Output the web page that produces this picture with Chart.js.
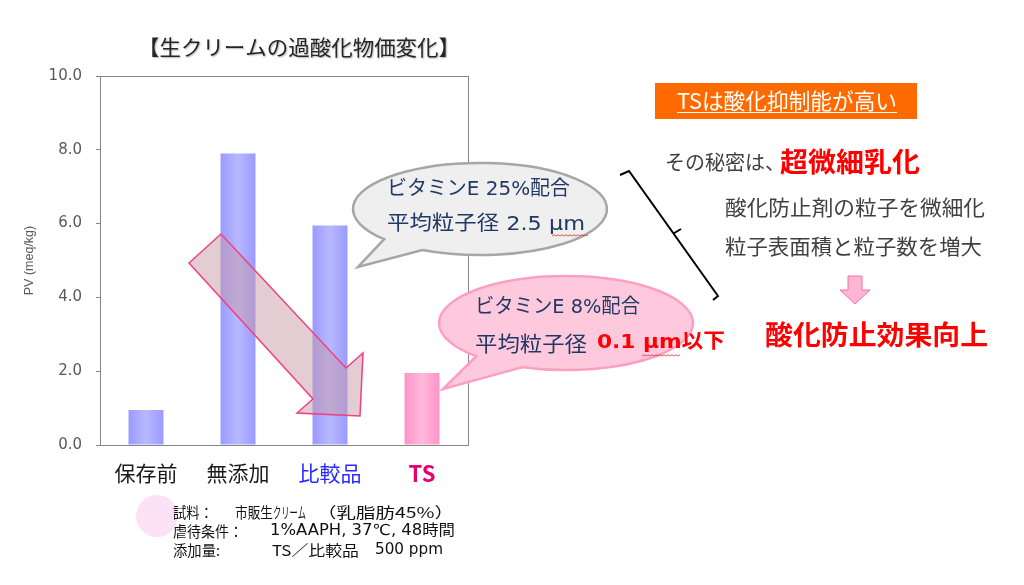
<!DOCTYPE html>
<html><head><meta charset="utf-8">
<script src="https://cdn.jsdelivr.net/npm/chart.js@4.4.1/dist/chart.umd.min.js"></script>
<style>html,body{margin:0;padding:0;background:#fff;overflow:hidden}canvas{display:block}</style>
</head><body>
<canvas id="c" width="1024" height="585"></canvas>
<script>
// ---- data ----
const categories = ['保存前', '無添加', '比較品', 'TS'];
const pvValues = [0.95, 7.9, 5.95, 1.95];
const yTickLabels = ['0.0', '2.0', '4.0', '6.0', '8.0', '10.0'];
const yAxisTitle = 'PV (meq/kg)';
const chartTitle = '【生クリームの過酸化物価変化】';
const categoryColors = ['#1a1a1a', '#1a1a1a', '#2a2aff', '#e8006e'];
const barEdgeColors = ['#9a9aff', '#9a9aff', '#9a9aff', '#ff94c8'];
const barMidColors = ['#b8b8ff', '#b8b8ff', '#b8b8ff', '#ffb9dc'];

const JP = '"Noto Sans CJK JP", "Noto Sans", sans-serif';
const MIX = '"DejaVu Sans", "Noto Sans CJK JP", sans-serif';
const BAR_PCT = 0.38;

function barFill(c) {
  const chart = c.chart, area = chart.chartArea, i = c.dataIndex;
  if (!area || c.type !== 'data' || !chart.scales.x) return barEdgeColors[i] || '#9a9aff';
  const x = chart.scales.x.getPixelForValue(i);
  const w = area.width / categories.length * BAR_PCT;
  const g = chart.ctx.createLinearGradient(x - w / 2, 0, x + w / 2, 0);
  g.addColorStop(0, barEdgeColors[i]);
  g.addColorStop(0.5, barMidColors[i]);
  g.addColorStop(1, barEdgeColors[i]);
  return g;
}

function txt(ctx, str, x, y, size, color, opts = {}) {
  const weight = opts.weight || 'normal';
  const fam = opts.family || JP;
  ctx.save();
  ctx.font = `${weight} ${size}px ${fam}`;
  ctx.fillStyle = color;
  ctx.textAlign = 'left';
  ctx.textBaseline = 'middle';
  const w = ctx.measureText(str).width;
  ctx.translate(x, y);
  if (opts.width) ctx.scale(opts.width / w, 1);
  if (opts.align === 'center') ctx.translate(-w / 2, 0);
  ctx.fillText(str, 0, 0);
  ctx.restore();
}

function balloon(ctx, cx, cy, rx, ry, a1, a2, tip, fill, stroke) {
  ctx.save();
  ctx.beginPath();
  ctx.ellipse(cx, cy, rx, ry, 0, a1 * Math.PI / 180, (a2 + 360) * Math.PI / 180, false);
  ctx.lineTo(tip[0], tip[1]);
  ctx.closePath();
  ctx.fillStyle = fill; ctx.fill();
  ctx.lineWidth = 2.5; ctx.strokeStyle = stroke; ctx.lineJoin = 'miter'; ctx.stroke();
  ctx.restore();
}

function squiggle(ctx, x1, x2, y) {
  ctx.save();
  ctx.beginPath();
  ctx.strokeStyle = '#e03030'; ctx.lineWidth = 0.8;
  let up = true;
  ctx.moveTo(x1, y);
  for (let x = x1 + 2; x <= x2; x += 2) { ctx.lineTo(x, up ? y - 1.2 : y); up = !up; }
  ctx.stroke();
  ctx.restore();
}

const deco = {
  id: 'deco',
  beforeDatasetsDraw(chart) {
    const { ctx, chartArea: a } = chart;
    ctx.save();
    ctx.strokeStyle = '#868686'; ctx.lineWidth = 1;
    ctx.strokeRect(Math.round(a.left) + 0.5, Math.round(a.top) + 0.5, Math.round(a.width), Math.round(a.height));
    ctx.restore();
  },
  afterDraw(chart) {
    const ctx = chart.ctx;
    // title
    ctx.save();
    ctx.shadowColor = 'rgba(0,0,0,0.3)'; ctx.shadowOffsetX = 1; ctx.shadowOffsetY = 1; ctx.shadowBlur = 1.5;
    txt(ctx, chartTitle, 299, 47, 21, '#262626', { width: 322, align: 'center' });
    ctx.restore();

    // big diagonal arrow
    ctx.save();
    ctx.beginPath();
    const pts = [[189, 263], [221, 234], [346, 368], [363, 353], [360, 416], [297, 413], [313, 399]];
    ctx.moveTo(pts[0][0], pts[0][1]);
    for (let i = 1; i < pts.length; i++) ctx.lineTo(pts[i][0], pts[i][1]);
    ctx.closePath();
    ctx.fillStyle = 'rgba(199,155,167,0.5)'; ctx.fill();
    ctx.strokeStyle = '#f0407f'; ctx.lineWidth = 1.5; ctx.lineJoin = 'miter'; ctx.stroke();
    ctx.restore();

    // balloons
    balloon(ctx, 480, 209, 127, 46, 139, 117, [358, 267], '#efefef', '#a6a6a6');
    txt(ctx, 'ビタミンE 25%配合', 387, 190, 20, '#1f3864', { width: 183, family: MIX });
    txt(ctx, '平均粒子径 2.5 μm', 387, 225, 20, '#1f3864', { width: 198, family: MIX });
    squiggle(ctx, 552, 588, 236);

    balloon(ctx, 566, 323, 127, 47, 135, 110, [443, 389], '#ffc9dd', '#ff9ec4');
    txt(ctx, 'ビタミンE 8%配合', 475, 308, 20, '#1f3864', { width: 165, family: MIX });
    txt(ctx, '平均粒子径', 475, 343, 21, '#1f3864', { width: 112 });
    txt(ctx, '0.1 μm以下', 597, 343, 20, '#ff0000', { width: 128, weight: 'bold', family: MIX });
    squiggle(ctx, 642, 680, 356);

    // orange box
    ctx.save();
    ctx.fillStyle = '#ff6a00';
    ctx.fillRect(655, 83, 262, 36);
    ctx.restore();
    txt(ctx, 'TSは酸化抑制能が高い', 677, 101, 22, '#ffffff', { width: 220 });
    ctx.save();
    ctx.strokeStyle = '#ffffff'; ctx.lineWidth = 1.2;
    ctx.beginPath(); ctx.moveTo(677, 112.5); ctx.lineTo(897, 112.5); ctx.stroke();
    ctx.restore();

    // right texts
    txt(ctx, 'その秘密は、', 665, 162, 20, '#404040', { width: 120 });
    txt(ctx, '超微細乳化', 780, 162, 27, '#ff0000', { width: 140, weight: 'bold' });
    txt(ctx, '酸化防止剤の粒子を微細化', 725, 207, 21, '#404040', { width: 260 });
    txt(ctx, '粒子表面積と粒子数を増大', 725, 246, 21, '#404040', { width: 257 });
    txt(ctx, '酸化防止効果向上', 765, 335, 27, '#ff0000', { width: 223, weight: 'bold' });

    // bracket
    ctx.save();
    ctx.strokeStyle = '#000000'; ctx.lineWidth = 2; ctx.lineJoin = 'miter';
    ctx.beginPath();
    ctx.moveTo(620, 175); ctx.lineTo(629, 171); ctx.lineTo(718, 296); ctx.lineTo(713, 300);
    ctx.moveTo(673.5, 233.5); ctx.lineTo(681, 229);
    ctx.stroke();
    ctx.restore();

    // small pink down arrow
    ctx.save();
    ctx.beginPath();
    ctx.moveTo(848, 276); ctx.lineTo(862, 276); ctx.lineTo(862, 290); ctx.lineTo(870, 290);
    ctx.lineTo(855, 304); ctx.lineTo(840, 290); ctx.lineTo(848, 290); ctx.closePath();
    ctx.fillStyle = '#ffb6d3'; ctx.fill();
    ctx.strokeStyle = '#ff6aa6'; ctx.lineWidth = 1; ctx.stroke();
    ctx.restore();

    // pink circle
    ctx.save();
    ctx.beginPath(); ctx.arc(157, 516, 21, 0, Math.PI * 2);
    ctx.fillStyle = '#fde2f7'; ctx.fill();
    ctx.restore();

    // notes
    const nc = '#111111';
    txt(ctx, '試料：', 173, 512, 15, nc, { width: 40 });
    txt(ctx, '市販生', 235, 512, 15, nc, { width: 38 });
    txt(ctx, 'クリーム', 273, 512, 15, nc, { width: 33 });
    txt(ctx, '（乳脂肪45%）', 317, 512, 15, nc, { width: 137 });
    txt(ctx, '虐待条件：', 173, 531, 15, nc, { width: 70 });
    txt(ctx, '1%AAPH, 37℃, 48時間', 270, 531, 15, nc, { width: 185, family: MIX });
    txt(ctx, '添加量:', 173, 550, 15, nc, { width: 47 });
    txt(ctx, 'TS／比較品', 272, 550, 15, nc, { width: 87 });
    txt(ctx, '500 ppm', 375, 550, 15, nc, { width: 68, family: MIX });
  }
};

new Chart(document.getElementById('c'), {
  type: 'bar',
  data: {
    labels: categories,
    datasets: [{
      data: pvValues,
      backgroundColor: barFill,
      borderWidth: 0,
      barPercentage: BAR_PCT,
      categoryPercentage: 1.0
    }]
  },
  options: {
    responsive: false,
    animation: false,
    devicePixelRatio: 1,
    layout: { padding: { left: 0, right: 556, top: 76, bottom: 100 } },
    plugins: { legend: { display: false }, tooltip: { enabled: false }, title: { display: false } },
    scales: {
      x: {
        grid: { display: false },
        border: { display: true, color: '#868686', width: 1 },
        ticks: {
          padding: 7,
          color: (c) => categoryColors[c.index],
          font: (c) => ({ family: JP, size: c.index === 3 ? 22 : 21, weight: c.index === 3 ? 'bold' : 'normal' })
        },
        afterFit: (s) => { s.height = 40; }
      },
      y: {
        min: 0, max: 10,
        grid: { display: true, drawOnChartArea: false, drawTicks: true, tickLength: 4, color: '#868686' },
        border: { display: true, color: '#868686', width: 1 },
        ticks: {
          stepSize: 2,
          padding: 14,
          color: '#595959',
          font: { family: '"DejaVu Sans", sans-serif', size: 15 },
          callback: (v) => yTickLabels[Math.round(v / 2)]
        },
        title: {
          display: true, text: yAxisTitle, color: '#595959',
          font: { family: '"Liberation Sans", Arial, sans-serif', size: 12.5 },
          padding: { top: 22, bottom: 0 }
        },
        afterFit: (s) => { s.width = 100; }
      }
    }
  },
  plugins: [deco]
});
</script>
</body></html>
